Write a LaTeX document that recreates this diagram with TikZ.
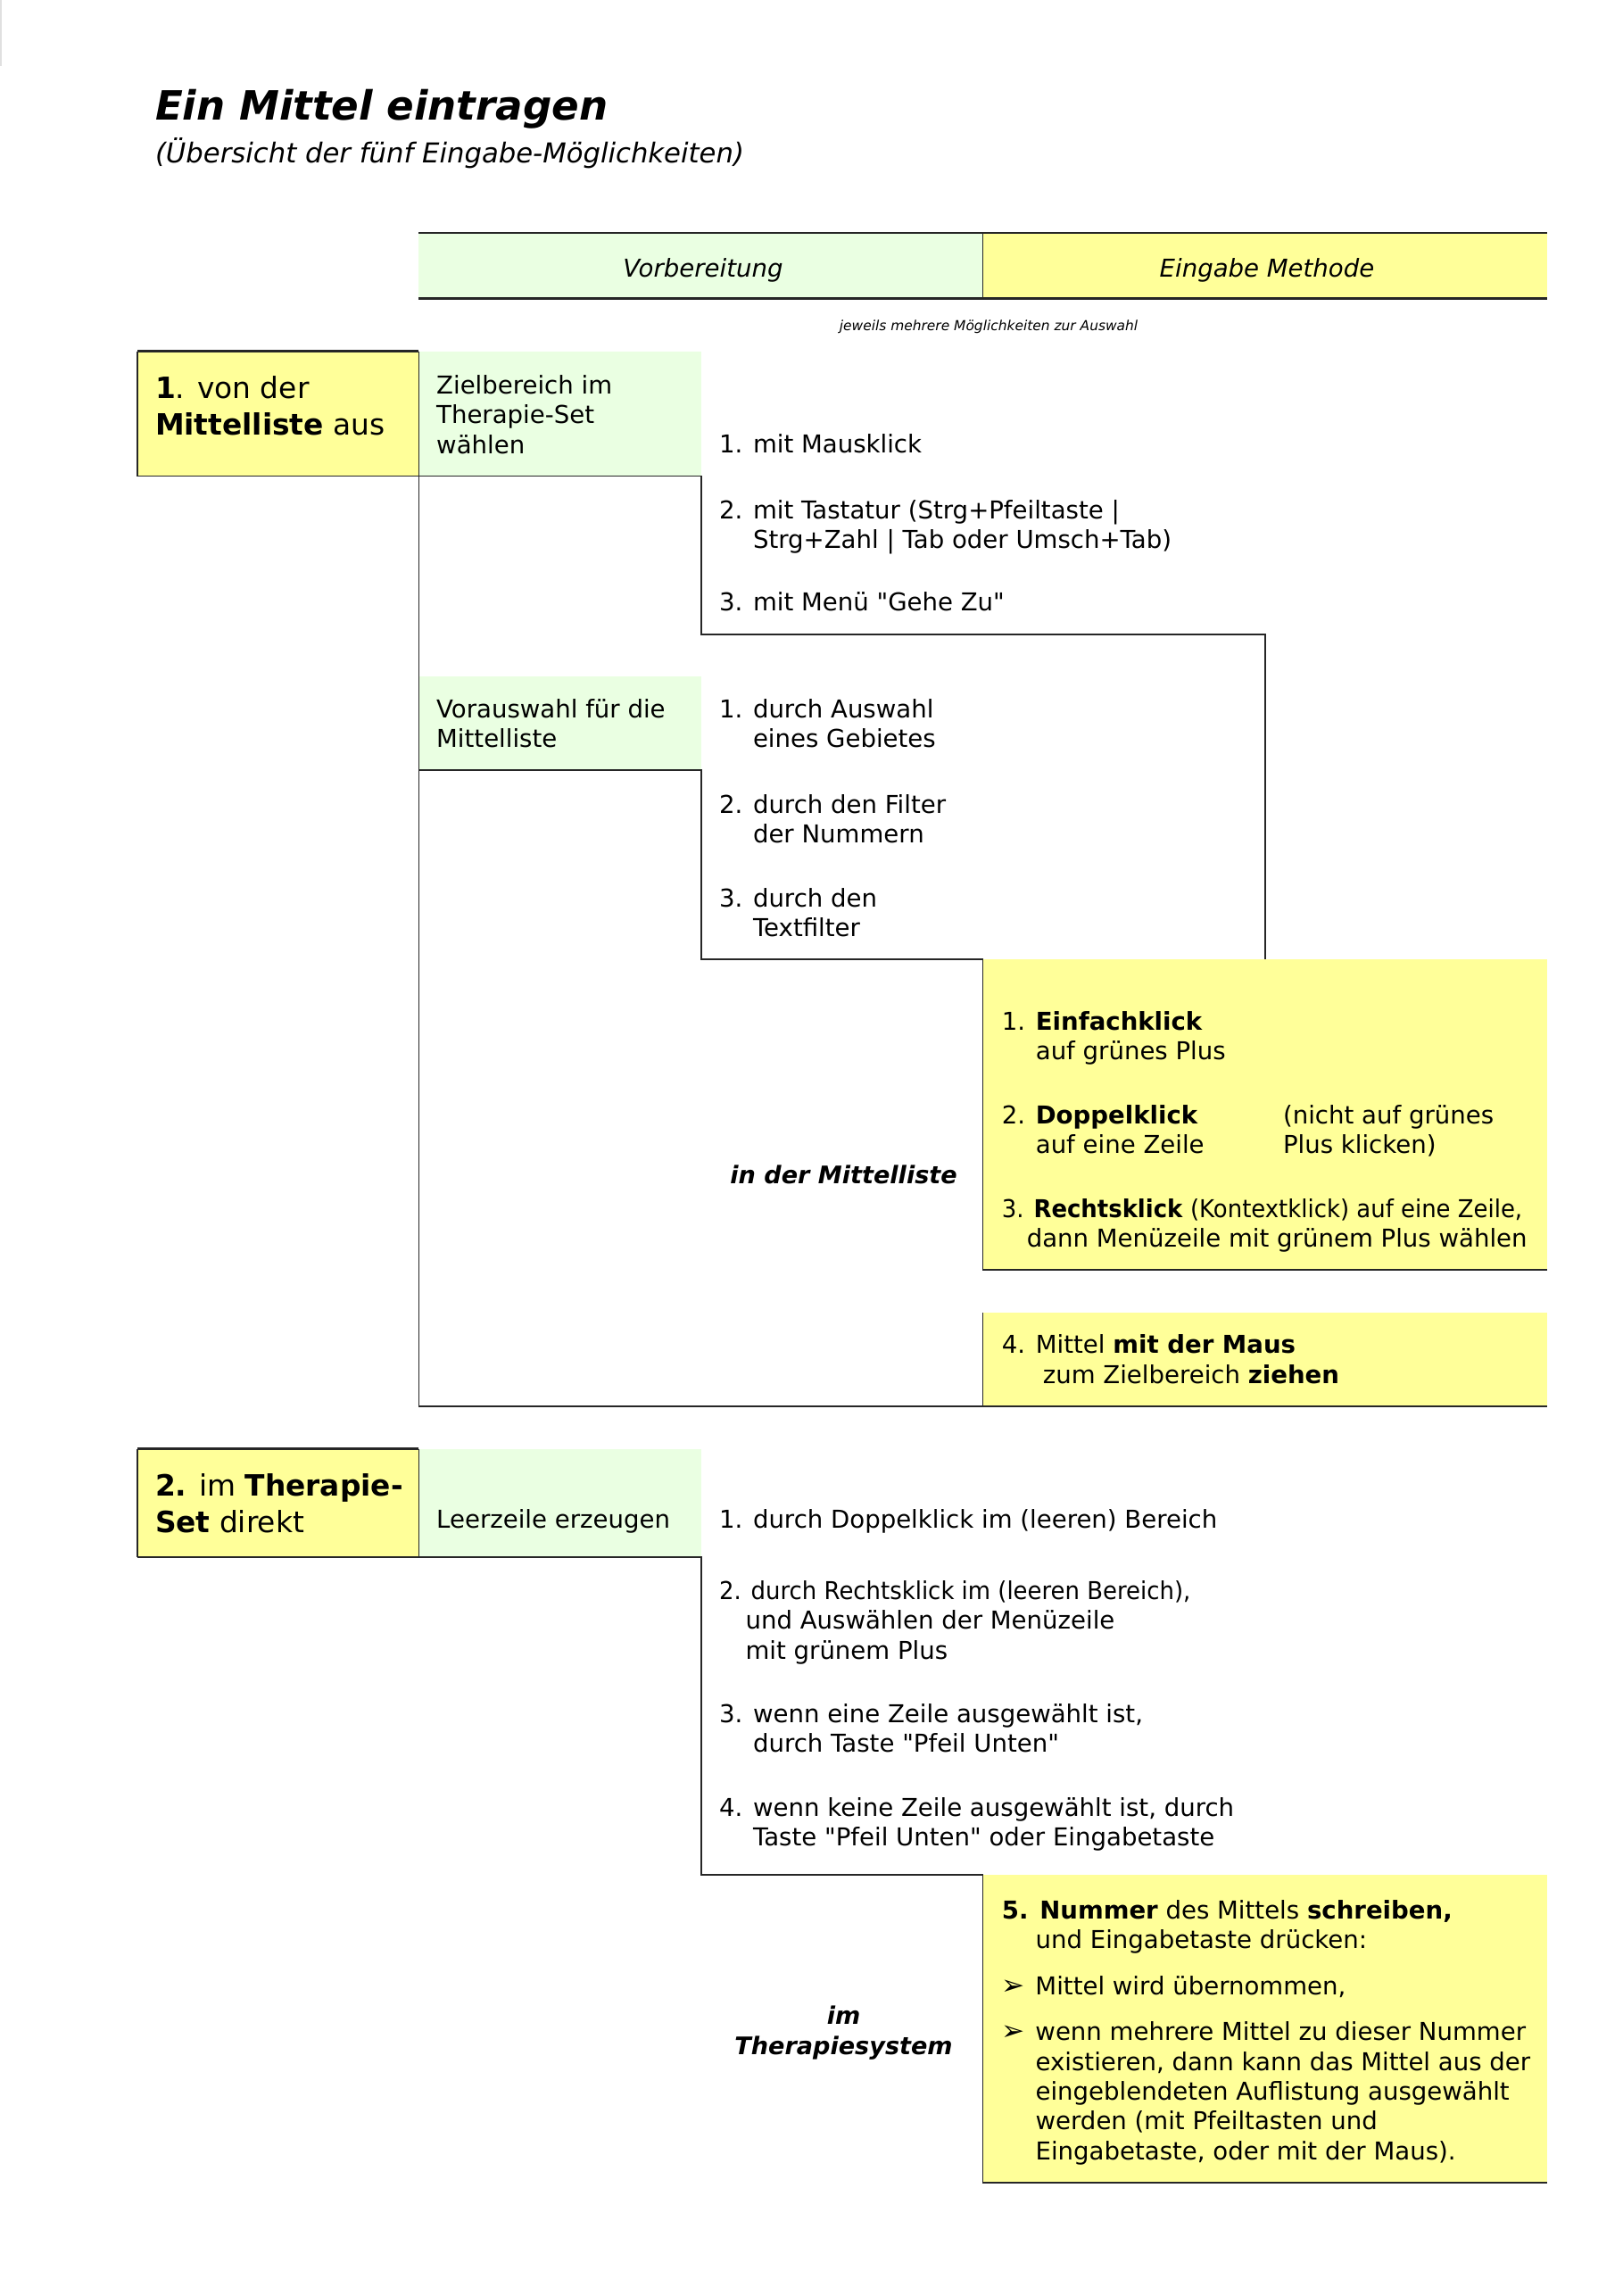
\documentclass[tikz,border=0pt]{standalone}
\usepackage{fontspec}
\setmainfont{DejaVu Sans}
\newfontfamily\narrowfont{DejaVu Sans}[FakeStretch=0.94]
\newcommand\dq{\XeTeXglyph\XeTeXcharglyph"22\relax}
\newcommand\bul{{\fontsize{19}{20}\selectfont\bfseries ➢}}
\definecolor{grn}{HTML}{EAFFE2}
\definecolor{ylw}{HTML}{FFFF99}
\definecolor{linecol}{HTML}{262626}
\begin{document}
\begin{tikzpicture}[x=1pt,y=-1pt,
  every node/.style={inner sep=0pt, outer sep=0pt},
  body/.style={anchor=base west, align=left, font=\fontsize{16.8}{20.3}\selectfont},
  big/.style={anchor=base west, align=left, font=\fontsize{20}{25}\selectfont},
  side/.style={anchor=base, align=center, font=\fontsize{16.5}{20.3}\selectfont\bfseries\itshape},
  hdr/.style={anchor=base, font=\fontsize{16.8}{20}\selectfont\itshape},
  rl/.style={line width=1.2pt, draw=linecol},
  heavyrl/.style={line width=1.8pt, draw=linecol},
  thinrl/.style={line width=0.6pt, draw=linecol}]
\useasboundingbox (0,0) rectangle (1107.5,1567.4);
% scan edge
\draw[line width=1pt, black!12] (0.5,0) -- (0.5,45);
% title
\node[anchor=base west, font=\fontsize{27.5}{32}\selectfont\bfseries\itshape] (title) at (106,82) {Ein Mittel eintragen};
\node[anchor=base west, font=\fontsize{18.7}{22}\selectfont\itshape] (subtitle) at (106,111) {(Übersicht der fünf Eingabe-Möglichkeiten)};
% fills
\fill[grn] (286,159) rectangle (671,204);
\fill[ylw] (671,159) rectangle (1056,204);
\fill[ylw] (94,240) rectangle (286,325);
\fill[grn] (286,240) rectangle (479,325);
\fill[grn] (286,462) rectangle (479,526);
\fill[ylw] (671,655) rectangle (1056,867);
\fill[ylw] (671,896) rectangle (1056,960);
\fill[ylw] (94,989) rectangle (286,1063);
\fill[grn] (286,989) rectangle (479,1063);
\fill[ylw] (671,1280) rectangle (1056,1490);
% header
\draw[heavyrl] (286,159) -- (1056,159);
\draw[heavyrl] (286,204) -- (1056,204);
\draw[thinrl] (671,159) -- (671,204);
\node[hdr] (vorb) at (480,189) {Vorbereitung};
\node[hdr] (eing) at (865,189) {Eingabe Methode};
\node[anchor=base, font=\fontsize{9.4}{11}\selectfont\itshape] (note) at (675,226) {jeweils mehrere Möglichkeiten zur Auswahl};
% section 1 lines
\draw[heavyrl] (94,240) -- (286,240);
\draw[rl] (94,240) -- (94,325);
\draw[rl] (286,240) -- (286,960);
\draw[rl] (94,325) -- (479,325) -- (479,433) -- (864,433) -- (864,655);
\draw[rl] (286,526) -- (479,526) -- (479,655) -- (671,655);
\draw[rl] (671,655) -- (671,867) -- (1056,867);
\draw[rl] (671,896) -- (671,960);
\draw[rl] (286,960) -- (1056,960);
% section 1 texts (base = last line baseline)
\node[big] (s1) at (106,297) {\textbf{1}. von der\\\textbf{Mittelliste} aus};
\node[body] (g1) at (298,309.6) {Zielbereich im\\Therapie-Set\\wählen};
\node[body] (a11) at (491,309) {1. mit Mausklick};
\node[body] (a12) at (491,374.3) {2. mit Tastatur (Strg+Pfeiltaste |\\\phantom{2. }Strg+Zahl | Tab oder Umsch+Tab)};
\node[body] (a13) at (491,417) {3. mit Menü \dq Gehe Zu\dq};
\node[body] (g2) at (298,510.3) {Vorauswahl für die\\Mittelliste};
\node[body] (b11) at (491,510.3) {1. durch Auswahl\\\phantom{1. }eines Gebietes};
\node[body] (b12) at (491,575.3) {2. durch den Filter\\\phantom{2. }der Nummern};
\node[body] (b13) at (491,639.3) {3. durch den\\\phantom{3. }Textfilter};
\node[side] (inml) at (576,808) {in der Mittelliste};
\node[body] (c1) at (684,723.3) {1. \textbf{Einfachklick}\\\phantom{1. }auf grünes Plus};
\node[body] (c2) at (684,787.3) {2. \textbf{Doppelklick}\\\phantom{2. }auf eine Zeile};
\node[body] (c2b) at (876,787.3) {(nicht auf grünes\\Plus klicken)};
\node[body] (c3) at (684,851.3) {{\narrowfont 3. \textbf{Rechtsklick} (Kontextklick) auf eine Zeile,}\\\hspace*{17pt}dann Menüzeile mit grünem Plus wählen};
\node[body] (c4) at (684,944.3) {4. Mittel \textbf{mit der Maus}\\\hspace*{28pt}zum Zielbereich \textbf{ziehen}};
% section 2 lines
\draw[heavyrl] (94,989) -- (286,989);
\draw[rl] (94,989) -- (94,1063);
\draw[rl] (286,989) -- (286,1063);
\draw[rl] (94,1063) -- (479,1063) -- (479,1280) -- (671,1280);
\draw[rl] (671,1280) -- (671,1490) -- (1056,1490);
% section 2 texts
\node[big] (s2) at (106,1046) {\textbf{2.} im \textbf{Therapie-}\\\textbf{Set} direkt};
\node[body] (g3) at (298,1043) {Leerzeile erzeugen};
\node[body] (d1) at (491,1043) {1. durch Doppelklick im (leeren) Bereich};
\node[body] (d2) at (491,1132.6) {{\narrowfont 2. durch Rechtsklick im (leeren Bereich),}\\\hspace*{18pt}und Auswählen der Menüzeile\\\hspace*{18pt}mit grünem Plus};
\node[body] (d3) at (491,1196.3) {3. wenn eine Zeile ausgewählt ist,\\\phantom{3. }durch Taste \dq Pfeil Unten\dq};
\node[body] (d4) at (491,1260.3) {4. wenn keine Zeile ausgewählt ist, durch\\\phantom{4. }Taste \dq Pfeil Unten\dq{} oder Eingabetaste};
\node[side] (ints) at (576,1402.3) {im\\Therapiesystem};
\node[body] (e1) at (684,1330.3) {\textbf{5. Nummer} des Mittels \textbf{schreiben,}\\\hspace*{23pt}und Eingabetaste drücken:};
\node[body] (e2) at (684,1362) {\bul\hspace*{7pt}Mittel wird übernommen,};
\node[body] (e3) at (684,1474.2) {\bul\hspace*{7pt}wenn mehrere Mittel zu dieser Nummer\\\hspace*{23pt}existieren, dann kann das Mittel aus der\\\hspace*{23pt}eingeblendeten Auflistung ausgewählt\\\hspace*{23pt}werden (mit Pfeiltasten und\\\hspace*{23pt}Eingabetaste, oder mit der Maus).};
\end{tikzpicture}
\end{document}
